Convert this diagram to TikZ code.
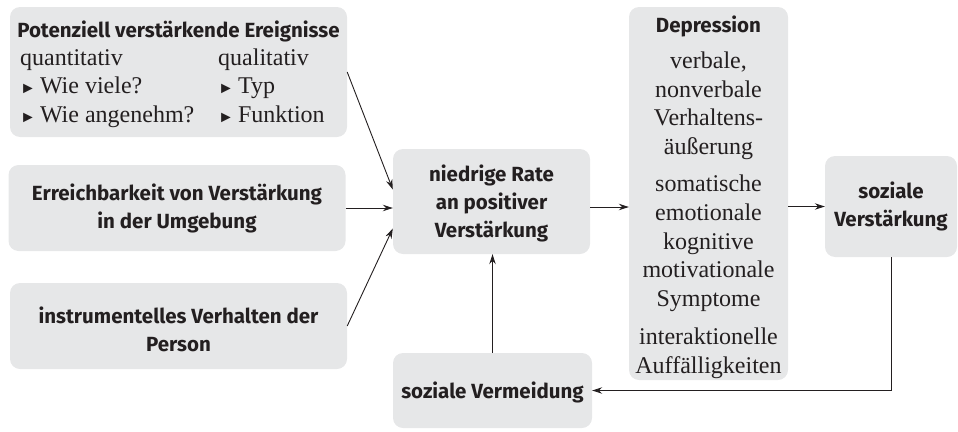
\documentclass[tikz,border=0pt]{standalone}
\usepackage{fontspec}
\setmainfont{Liberation Serif}
\newfontfamily\hd{Fira Sans}
\usetikzlibrary{arrows.meta}
\definecolor{boxgray}{HTML}{E6E7E8}
\definecolor{ink}{HTML}{231F20}
\newcommand{\tri}{{\fontsize{16}{16}\selectfont ►}\,}
\begin{document}
\begin{tikzpicture}[x=1pt,y=-1pt,
 box/.style={fill=boxgray, rounded corners=10pt, inner sep=0pt},
 hdtext/.style={font=\hd\bfseries\fontsize{20.5}{28}\selectfont, text=ink, align=center, inner sep=0pt},
 sertext/.style={font=\fontsize{24}{28}\selectfont, text=ink, inner sep=0pt},
 arr/.style={draw=ink, line width=0.9pt, -{Stealth[length=10pt,width=6.5pt]}}
]
\useasboundingbox (0,0) rectangle (958,431);
% boxes
\node[box, minimum width=337pt, minimum height=130pt] (p1) at (178.5,72) {};
\node[box, minimum width=337pt, minimum height=86pt] (p2) at (177,208) {};
\node[box, minimum width=337pt, minimum height=86pt] (p3) at (178.5,326) {};
\node[box, minimum width=197pt, minimum height=105pt] (rate) at (491.5,201.5) {};
\node[box, minimum width=199pt, minimum height=75pt] (verm) at (492.5,390.5) {};
\node[box, minimum width=159pt, minimum height=373pt] (dep) at (708.5,193.5) {};
\node[box, minimum width=132pt, minimum height=101pt] (sv) at (891,206.5) {};
% box 1 text
\node[hdtext, anchor=base] (p1t) at (178.5,37) {Potenziell verstärkende Ereignisse};
\node[sertext, anchor=base west] (q1) at (20,65) {quantitativ};
\node[sertext, anchor=base west] (q2) at (20,93.5) {\tri Wie viele?};
\node[sertext, anchor=base west] (q3) at (20,122) {\tri Wie angenehm?};
\node[sertext, anchor=base west] (l1) at (218,65) {qualitativ};
\node[sertext, anchor=base west] (l2) at (218,93.5) {\tri Typ};
\node[sertext, anchor=base west] (l3) at (218,122) {\tri Funktion};
% other texts
\node[hdtext] (p2t) at (p2.center) {Erreichbarkeit von Verstärkung\\in der Umgebung};
\node[hdtext] (p3t) at ([yshift=-3pt]p3.center) {instrumentelles Verhalten der\\Person};
\node[hdtext] (ratet) at ([yshift=-2pt]rate.center) {niedrige Rate\\an positiver\\Verstärkung};
\node[hdtext] (vermt) at ([yshift=-2pt]verm.center) {soziale Vermeidung};
\node[hdtext] (svt) at (sv.center) {soziale\\Verstärkung};
\node[sertext, font=\fontsize{24}{28.7}\selectfont, align=center, anchor=north] (dept) at (708.5,16) {{\hd\bfseries\fontsize{20.5}{20.5}\selectfont Depression}\\[7pt]
verbale,\\ nonverbale\\ Verhaltens-\\ äußerung\\[8.5pt]
somatische\\ emotionale\\ kognitive\\ motivationale\\ Symptome\\[9.5pt]
interaktionelle\\ Auffälligkeiten};
% connectors
\draw[arr] (p1.east) -- ([yshift=12pt]rate.west);
\draw[arr] (p2.east) -- (p2.east -| rate.west);
\draw[arr] (p3.east) -- ([yshift=-27pt]rate.west);
\draw[arr] ([yshift=-5.5pt]rate.east) -- ([yshift=-5.5pt]rate.east -| dep.west);
\draw[arr] (sv.west -| dep.east) -- (sv.west);
\draw[arr] (sv.south) -- (sv.south |- verm.east) -- (verm.east);
\draw[arr] (verm.north) -- (verm.north |- rate.south);
\end{tikzpicture}
\end{document}
